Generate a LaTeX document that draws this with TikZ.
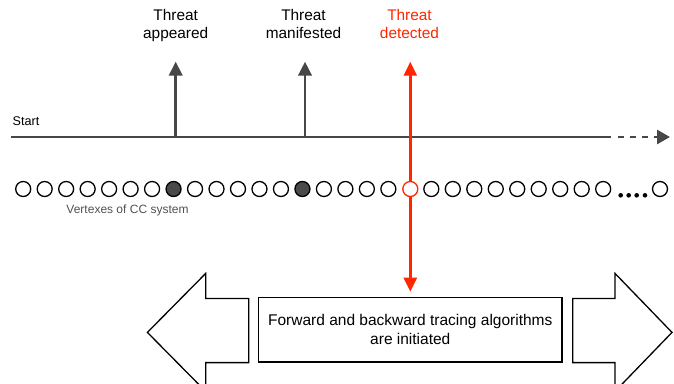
\documentclass[tikz,border=0pt]{standalone}
\usepackage{fontspec}
\setmainfont{Liberation Sans}
\usetikzlibrary{arrows.meta}
\definecolor{tline}{HTML}{474747}
\definecolor{alarm}{RGB}{255,38,0}
\definecolor{hitgray}{HTML}{4A4A4A}
\definecolor{captiongray}{HTML}{505050}

\begin{document}
\begin{tikzpicture}[x=1pt,y=-1pt,
  vertex/.style={circle,draw=black,fill=white,line width=1.3pt,minimum size=15pt,inner sep=0pt},
  hitvertex/.style={vertex,fill=hitgray},
  alarmvertex/.style={vertex,draw=alarm},
  dotmark/.style={circle,fill=black,minimum size=4.6pt,inner sep=0pt},
  eventlabel/.style={anchor=north,align=center,inner sep=0pt,font=\fontsize{15.4}{17.5}\selectfont},
  eventarrow/.style={draw=tline,line width=2.6pt,-{Triangle[length=14pt,width=13.5pt]}},
  alarmarrow/.style={draw=alarm,line width=2.6pt,{Triangle[length=14pt,width=13pt]}-{Triangle[length=14pt,width=13pt]}},
  timeline/.style={draw=tline,line width=2.8pt},
  bigarrow/.style={draw=black,fill=white,line width=1.3pt,line join=miter},
  msgbox/.style={draw=black,line width=1.6pt,minimum width=303.5pt,minimum height=64.5pt,align=center,inner sep=0pt,font=\fontsize{15.5}{19}\selectfont}
]
\useasboundingbox (0,0) rectangle (674,383);
\clip (0,0) rectangle (674,383);

% time axis
\coordinate (t0) at (11,137);
\coordinate (t1) at (610.7,137);
\coordinate (t2) at (618,137);
\coordinate (t3) at (670,137);
\draw[timeline] (t0) -- (t1);
\draw[timeline,dash pattern=on 6pt off 6pt,-{Triangle[length=13pt,width=14pt]}] (t2) -- (t3);
\node[anchor=base west,inner sep=0pt,font=\fontsize{12.6}{14}\selectfont] (start) at (12.5,125) {Start};

% events on the time axis
\node[eventlabel] (appeared) at (175.7,9.3) {Threat\\appeared};
\node[eventlabel] (manifested) at (303.5,9.3) {Threat\\manifested};
\node[eventlabel,text=alarm] (detected) at (409.5,9.3) {Threat\\detected};

\coordinate (aBase) at (175.7,137);
\coordinate (aTip) at (175.7,61.7);
\coordinate (mBase) at (305,137);
\coordinate (mTip) at (305,61.7);
\coordinate (dTip) at (410.3,61.7);
\coordinate (dEnd) at (410.3,291.7);

\draw[eventarrow] (aBase) -- (aTip);
\draw[eventarrow] (mBase) -- (mTip);
\draw[alarmarrow] (dTip) -- (dEnd);

% vertices of the system
\foreach \i in {1,...,28}{
  \pgfmathsetmacro{\vx}{23.2+21.48*(\i-1)}
  \ifnum\i=8
    \node[hitvertex] (v\i) at (\vx,189) {};
  \else\ifnum\i=14
    \node[hitvertex] (v\i) at (\vx,189) {};
  \else\ifnum\i=19
    \node[alarmvertex] (v\i) at (410.3,189) {};
  \else
    \node[vertex] (v\i) at (\vx,189) {};
  \fi\fi\fi
}
\foreach \k/\dx in {1/620.7,2/628.7,3/636.7,4/645.0}{
  \node[dotmark] (dot\k) at (\dx,195.3) {};
}
\node[vertex] (vlast) at (660,189) {};
\node[font=\fontsize{12}{14}\selectfont,text=captiongray,inner sep=0pt] (vcap) at (127.5,210.5) {Vertexes of CC system};

% tracing in both directions
\node[msgbox] (trace) at (410.3,329.6) {Forward and backward tracing algorithms\\are initiated};

\draw[bigarrow] (147.4,332.4) -- (205.7,273.4) -- (205.7,298.4) -- (248.8,298.4)
  -- (248.8,362.6) -- (205.7,362.6) -- (205.7,391.4) -- cycle;
\draw[bigarrow] (672,332.4) -- (615,273.4) -- (615,298.4) -- (572.7,298.4)
  -- (572.7,362.6) -- (615,362.6) -- (615,391.4) -- cycle;
\end{tikzpicture}
\end{document}
